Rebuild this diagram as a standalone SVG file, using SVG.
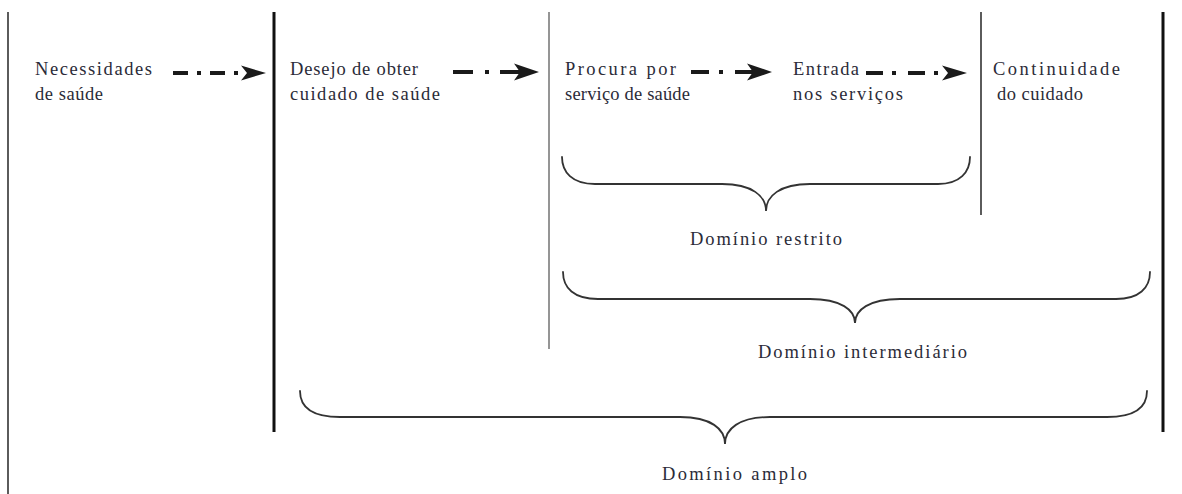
<svg xmlns="http://www.w3.org/2000/svg" width="1182" height="494" viewBox="0 0 1182 494">
<style>
  text { font-family: "Liberation Serif", "Times New Roman", serif; font-size: 18.5px; fill: #2b2b38; }
  .brace { fill: none; stroke: #333; stroke-width: 1.8; stroke-linecap: round; }
  .sep-thin { stroke: #333; stroke-width: 1.6; }
  .sep-thick { stroke: #111; stroke-width: 3; }
  .sep-grey { stroke: #8a8a8a; stroke-width: 1.8; }
  .flow { fill: none; stroke: #1a1a1a; stroke-width: 4; }
</style>
<defs>
  <marker id="headA" markerUnits="userSpaceOnUse" orient="auto" refX="0" refY="0" markerWidth="40" markerHeight="40" overflow="visible">
    <path d="M -4 -7.5 L 21 0 L -4 7.5 L 2 0 Z" fill="#1a1a1a"/>
  </marker>
  <marker id="headB" markerUnits="userSpaceOnUse" orient="auto" refX="0" refY="0" markerWidth="40" markerHeight="40" overflow="visible">
    <path d="M -6 -8.5 L 19 0 L -6 8.5 L 0 0 Z" fill="#1a1a1a"/>
  </marker>
</defs>
<rect width="1182" height="494" fill="#ffffff"/>

<g id="separators">
  <line class="sep-thin" x1="8" y1="12" x2="8" y2="494"/>
  <line class="sep-thick" x1="274" y1="12" x2="274" y2="432"/>
  <line class="sep-grey" x1="549" y1="12" x2="549" y2="349"/>
  <line class="sep-thin" x1="981" y1="12" x2="981" y2="215"/>
  <line class="sep-thick" x1="1163" y1="12" x2="1163" y2="432"/>
</g>

<g id="node-necessidades">
  <text x="35" y="75" textLength="117" lengthAdjust="spacing">Necessidades</text>
  <text x="35" y="100" textLength="68" lengthAdjust="spacing">de saúde</text>
</g>
<g id="node-desejo">
  <text x="290" y="75" textLength="128" lengthAdjust="spacing">Desejo de obter</text>
  <text x="290" y="100" textLength="150" lengthAdjust="spacing">cuidado de saúde</text>
</g>
<g id="node-procura">
  <text x="565" y="75" textLength="111" lengthAdjust="spacing">Procura por</text>
  <text x="565" y="100" textLength="125" lengthAdjust="spacing">serviço de saúde</text>
</g>
<g id="node-entrada">
  <text x="793" y="75" textLength="66" lengthAdjust="spacing">Entrada</text>
  <text x="793" y="100" textLength="110" lengthAdjust="spacing">nos serviços</text>
</g>
<g id="node-continuidade">
  <text x="993" y="75" textLength="127" lengthAdjust="spacing">Continuidade</text>
  <text x="997" y="100" textLength="86" lengthAdjust="spacing">do cuidado</text>
</g>

<g id="connectors">
  <path class="flow" d="M 173 73 L 245 73" stroke-dasharray="15 9 4 9" marker-end="url(#headA)"/>
  <path class="flow" d="M 453 72 L 520 72" stroke-dasharray="20 12 4 11" marker-end="url(#headB)"/>
  <path class="flow" d="M 691 72 L 753 72" stroke-dasharray="18 10 4 12" marker-end="url(#headB)"/>
  <path class="flow" d="M 866 73 L 946 73" stroke-dasharray="17 9 4 12" marker-end="url(#headA)"/>
</g>

<g id="brace-restrito">
  <path class="brace" d="M 562 157 C 562 172 572 184 595 184 L 722 184 C 752 184 766 196 766 211 C 766 196 780 184 810 184 L 938 184 C 960 184 970 172 970 157"/>
  <text x="690" y="245" textLength="152" lengthAdjust="spacing">Domínio restrito</text>
</g>
<g id="brace-intermediario">
  <path class="brace" d="M 563 272 C 563 288 574 299 598 299 L 810 299 C 841 299 855 310 855 323 C 855 310 869 299 900 299 L 1116 299 C 1139 299 1150 288 1150 272"/>
  <text x="758" y="358" textLength="209" lengthAdjust="spacing">Domínio intermediário</text>
</g>
<g id="brace-amplo">
  <path class="brace" d="M 300 391 C 300 407 312 417 340 417 L 680 417 C 711 417 725 429 725 444 C 725 429 739 417 770 417 L 1107 417 C 1135 417 1147 407 1147 391"/>
  <text x="662" y="480" textLength="145" lengthAdjust="spacing">Domínio amplo</text>
</g>
</svg>
